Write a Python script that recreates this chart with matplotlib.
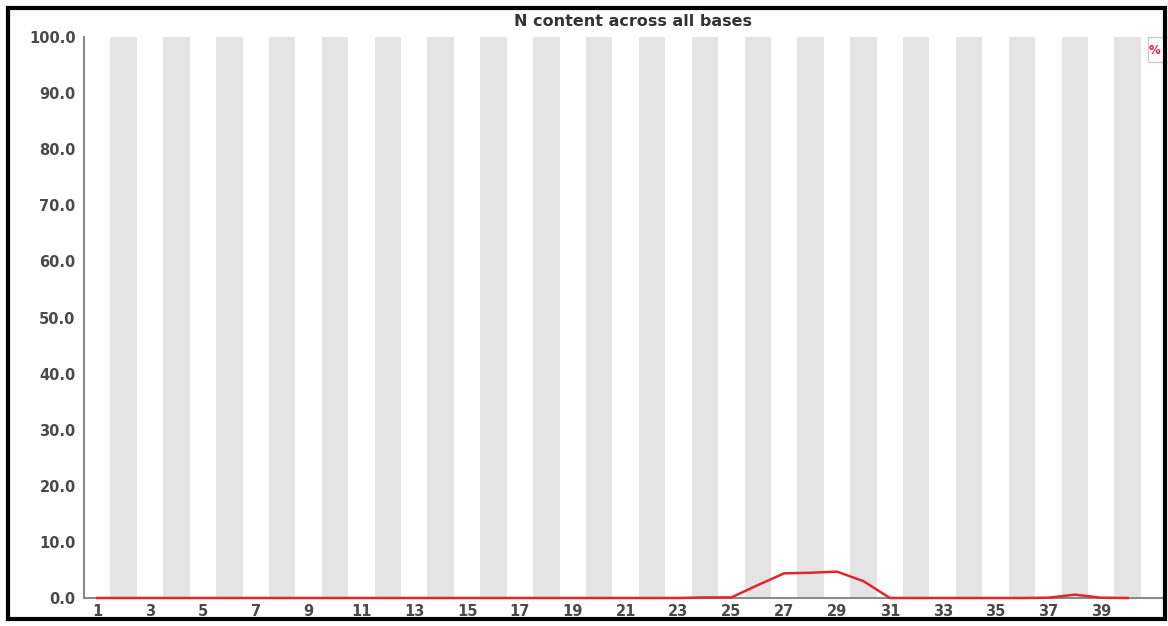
import matplotlib
matplotlib.use('Agg')
import matplotlib.pyplot as plt
from matplotlib.patches import Rectangle

# per-base N content (%)
positions = list(range(1, 41))
n_content = [0.0] * 23 + [0.1, 0.1, 2.3, 4.4, 4.5, 4.7, 3.0, 0.0,
                          0.0, 0.0, 0.0, 0.0, 0.0, 0.05, 0.6, 0.05, 0.0]
x_labels = list(range(1, 41, 2))
y_ticks = [0, 10, 20, 30, 40, 50, 60, 70, 80, 90, 100]

W, H = 1168, 626
fig = plt.figure(figsize=(W / 100, H / 100), dpi=100)
fig.patch.set_facecolor('white')

ax = fig.add_axes([84 / W, 1 - 598 / H, (1162 - 84) / W, (598 - 37) / H])
ax.set_xlim(0.5, 41.3)
ax.set_ylim(0, 100)

# alternating grey bands on even bases
for p in positions:
    if p % 2 == 0:
        ax.axvspan(p - 0.5, p + 0.5, color='#e4e4e4', lw=0, zorder=0)

ax.plot(positions, n_content, color='#e3262b', lw=1.8, zorder=5, clip_on=False)

ax.set_xticks(x_labels)
ax.set_xticklabels([str(v) for v in x_labels])
ax.set_yticks(y_ticks)
ax.set_yticklabels(['%.1f' % v for v in y_ticks])
ax.tick_params(length=0, labelsize=10.5, colors='#4a4a4a', pad=4)
ax.tick_params(axis='y', pad=6)
for lbl in ax.get_xticklabels() + ax.get_yticklabels():
    lbl.set_fontweight('bold')

for s in ['top', 'right']:
    ax.spines[s].set_visible(False)
for s in ['left', 'bottom']:
    ax.spines[s].set_color('#8a8a8a')
    ax.spines[s].set_linewidth(1.5)

fig.text(633 / W, 1 - 21 / H, 'N content across all bases', ha='center',
         va='center', fontsize=11.5, color='#333333', fontweight='bold')

# legend box cut off at the right edge
fig.patches.append(Rectangle((1148 / W, 1 - 62 / H), 30 / W, 25 / H,
                             transform=fig.transFigure, fill=True,
                             facecolor='white', edgecolor='#cccccc', lw=1))
fig.text(1149 / W, 1 - 51 / H, '%', ha='left', va='center', fontsize=8.5,
         color='#e3262b', fontweight='bold')

# outer frame
fig.patches.append(Rectangle((8 / W, 1 - 619 / H), (1165 - 8) / W, (619 - 8) / H,
                             transform=fig.transFigure, fill=False,
                             edgecolor='black', lw=3, zorder=10))

fig.savefig('out.png', dpi=100)
